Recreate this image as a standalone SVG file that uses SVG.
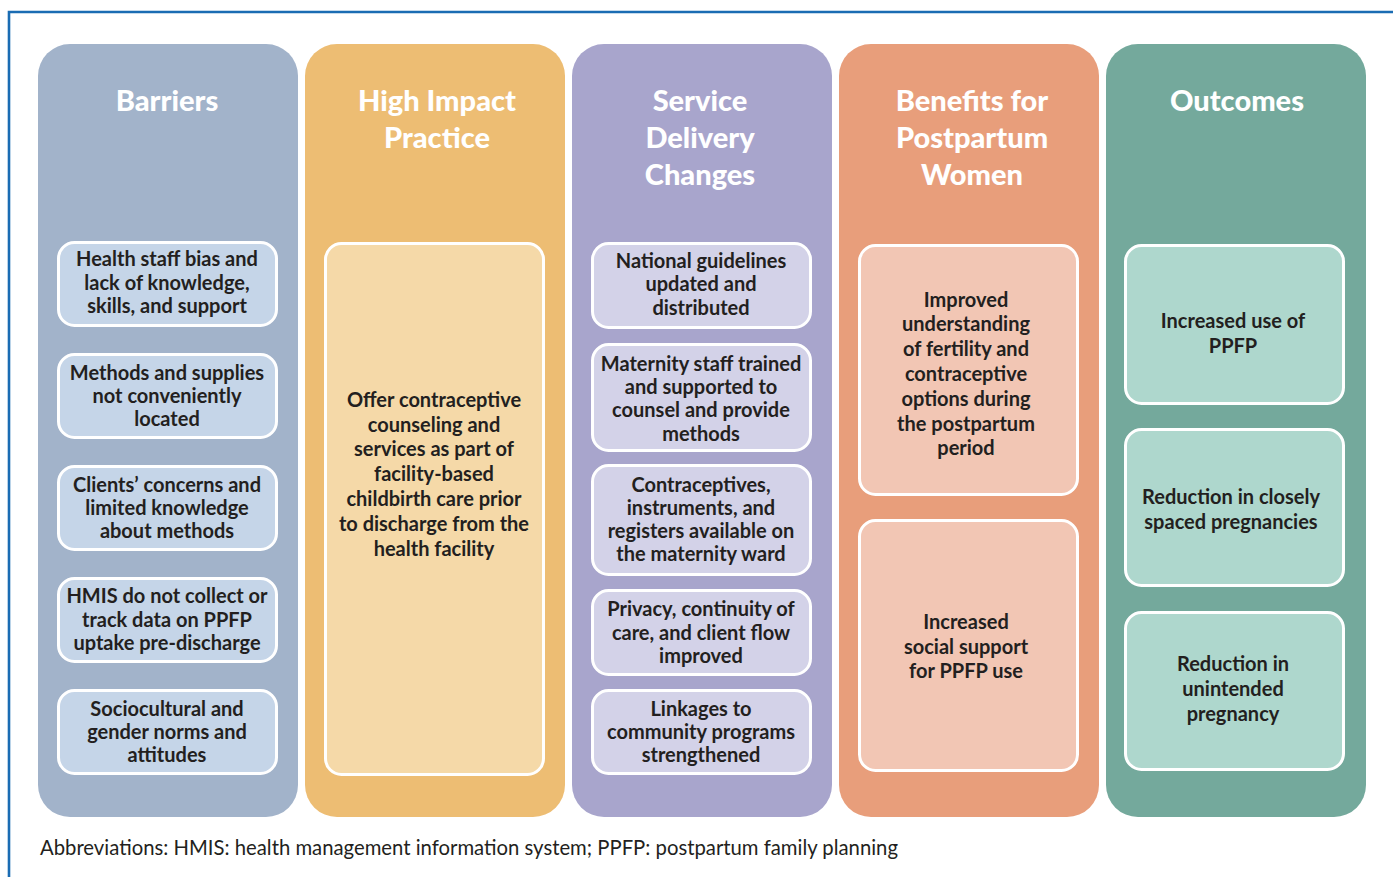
<svg xmlns="http://www.w3.org/2000/svg" width="1393" height="877" viewBox="0 0 1393 877">
<style>
.hd{font-family:Lato,"Open Sans",sans-serif;font-weight:900;font-size:29px;fill:#ffffff;text-anchor:middle}
.tx{font-family:Lato,"Open Sans",sans-serif;font-weight:700;font-size:20px;fill:#231f20;text-anchor:middle}
.ib{stroke:#ffffff;stroke-width:3}
.ft{font-family:Lato,"Open Sans",sans-serif;font-size:20.3px;fill:#231f20}
</style>
<rect width="1393" height="877" fill="#ffffff"/>
<path d="M9 877 V12 H1393" fill="none" stroke="#1a6cb3" stroke-width="2.6"/>

<g id="barriers">
<rect x="38" y="44" width="260" height="773" rx="32" fill="#a2b3ca"/>
<text class="hd" x="167" y="111">Barriers</text>
<rect class="ib" x="58.5" y="242.5" width="218" height="83" rx="16" fill="#c5d5e8"/>
<text class="tx" x="167" y="266">Health staff bias and</text>
<text class="tx" x="167" y="290">lack of knowledge,</text>
<text class="tx" x="167" y="313">skills, and support</text>
<rect class="ib" x="58.5" y="354.5" width="218" height="83" rx="16" fill="#c5d5e8"/>
<text class="tx" x="167" y="380">Methods and supplies</text>
<text class="tx" x="167" y="403">not conveniently</text>
<text class="tx" x="167" y="426">located</text>
<rect class="ib" x="58.5" y="466.5" width="218" height="83" rx="16" fill="#c5d5e8"/>
<text class="tx" x="167" y="492">Clients’ concerns and</text>
<text class="tx" x="167" y="515">limited knowledge</text>
<text class="tx" x="167" y="538">about methods</text>
<rect class="ib" x="58.5" y="578.5" width="218" height="83" rx="16" fill="#c5d5e8"/>
<text class="tx" x="167" y="603">HMIS do not collect or</text>
<text class="tx" x="167" y="627">track data on PPFP</text>
<text class="tx" x="167" y="650">uptake pre-discharge</text>
<rect class="ib" x="58.5" y="690.5" width="218" height="83" rx="16" fill="#c5d5e8"/>
<text class="tx" x="167" y="716">Sociocultural and</text>
<text class="tx" x="167" y="739">gender norms and</text>
<text class="tx" x="167" y="762">attitudes</text>
</g>

<g id="high-impact">
<rect x="305" y="44" width="260" height="773" rx="32" fill="#edbd73"/>
<text class="hd" x="437" y="111">High Impact</text>
<text class="hd" x="437" y="148">Practice</text>
<rect class="ib" x="325.5" y="243.5" width="218" height="531" rx="16" fill="#f5d9a8"/>
<text class="tx" x="434" y="407">Offer contraceptive</text>
<text class="tx" x="434" y="432">counseling and</text>
<text class="tx" x="434" y="456">services as part of</text>
<text class="tx" x="434" y="481">facility-based</text>
<text class="tx" x="434" y="506">childbirth care prior</text>
<text class="tx" x="434" y="531">to discharge from the</text>
<text class="tx" x="434" y="556">health facility</text>
</g>

<g id="service-delivery">
<rect x="572" y="44" width="260" height="773" rx="32" fill="#a8a5cc"/>
<text class="hd" x="700" y="111">Service</text>
<text class="hd" x="700" y="148">Delivery</text>
<text class="hd" x="700" y="185">Changes</text>
<rect class="ib" x="592.5" y="243.5" width="218" height="84" rx="16" fill="#d3d2e8"/>
<text class="tx" x="701" y="268">National guidelines</text>
<text class="tx" x="701" y="291">updated and</text>
<text class="tx" x="701" y="315">distributed</text>
<rect class="ib" x="592.5" y="344.5" width="218" height="106" rx="16" fill="#d3d2e8"/>
<text class="tx" x="701" y="371">Maternity staff trained</text>
<text class="tx" x="701" y="394">and supported to</text>
<text class="tx" x="701" y="417">counsel and provide</text>
<text class="tx" x="701" y="441">methods</text>
<rect class="ib" x="592.5" y="465.5" width="218" height="109" rx="16" fill="#d3d2e8"/>
<text class="tx" x="701" y="492">Contraceptives,</text>
<text class="tx" x="701" y="515">instruments, and</text>
<text class="tx" x="701" y="538">registers available on</text>
<text class="tx" x="701" y="561">the maternity ward</text>
<rect class="ib" x="592.5" y="590.5" width="218" height="84" rx="16" fill="#d3d2e8"/>
<text class="tx" x="701" y="616">Privacy, continuity of</text>
<text class="tx" x="701" y="640">care, and client flow</text>
<text class="tx" x="701" y="663">improved</text>
<rect class="ib" x="592.5" y="690.5" width="218" height="83" rx="16" fill="#d3d2e8"/>
<text class="tx" x="701" y="716">Linkages to</text>
<text class="tx" x="701" y="739">community programs</text>
<text class="tx" x="701" y="762">strengthened</text>
</g>

<g id="benefits">
<rect x="839" y="44" width="260" height="773" rx="32" fill="#e89e7b"/>
<text class="hd" x="972" y="111">Benefits for</text>
<text class="hd" x="972" y="148">Postpartum</text>
<text class="hd" x="972" y="185">Women</text>
<rect class="ib" x="859.5" y="245.5" width="218" height="249" rx="16" fill="#f2c6b4"/>
<text class="tx" x="966" y="307">Improved</text>
<text class="tx" x="966" y="331">understanding</text>
<text class="tx" x="966" y="356">of fertility and</text>
<text class="tx" x="966" y="381">contraceptive</text>
<text class="tx" x="966" y="406">options during</text>
<text class="tx" x="966" y="431">the postpartum</text>
<text class="tx" x="966" y="455">period</text>
<rect class="ib" x="859.5" y="520.5" width="218" height="250" rx="16" fill="#f2c6b4"/>
<text class="tx" x="966" y="629">Increased</text>
<text class="tx" x="966" y="654">social support</text>
<text class="tx" x="966" y="678">for PPFP use</text>
</g>

<g id="outcomes">
<rect x="1106" y="44" width="260" height="773" rx="32" fill="#74a99c"/>
<text class="hd" x="1237" y="111">Outcomes</text>
<rect class="ib" x="1125.5" y="245.5" width="218" height="158" rx="16" fill="#aed7cd"/>
<text class="tx" x="1233" y="328">Increased use of</text>
<text class="tx" x="1233" y="353">PPFP</text>
<rect class="ib" x="1125.5" y="429.5" width="218" height="156" rx="16" fill="#aed7cd"/>
<text class="tx" x="1231" y="504">Reduction in closely</text>
<text class="tx" x="1231" y="529">spaced pregnancies</text>
<rect class="ib" x="1125.5" y="612.5" width="218" height="157" rx="16" fill="#aed7cd"/>
<text class="tx" x="1233" y="671">Reduction in</text>
<text class="tx" x="1233" y="696">unintended</text>
<text class="tx" x="1233" y="721">pregnancy</text>
</g>

<g id="connectors"></g>

<text class="ft" x="40" y="855">Abbreviations: HMIS: health management information system; PPFP: postpartum family planning</text>
</svg>
